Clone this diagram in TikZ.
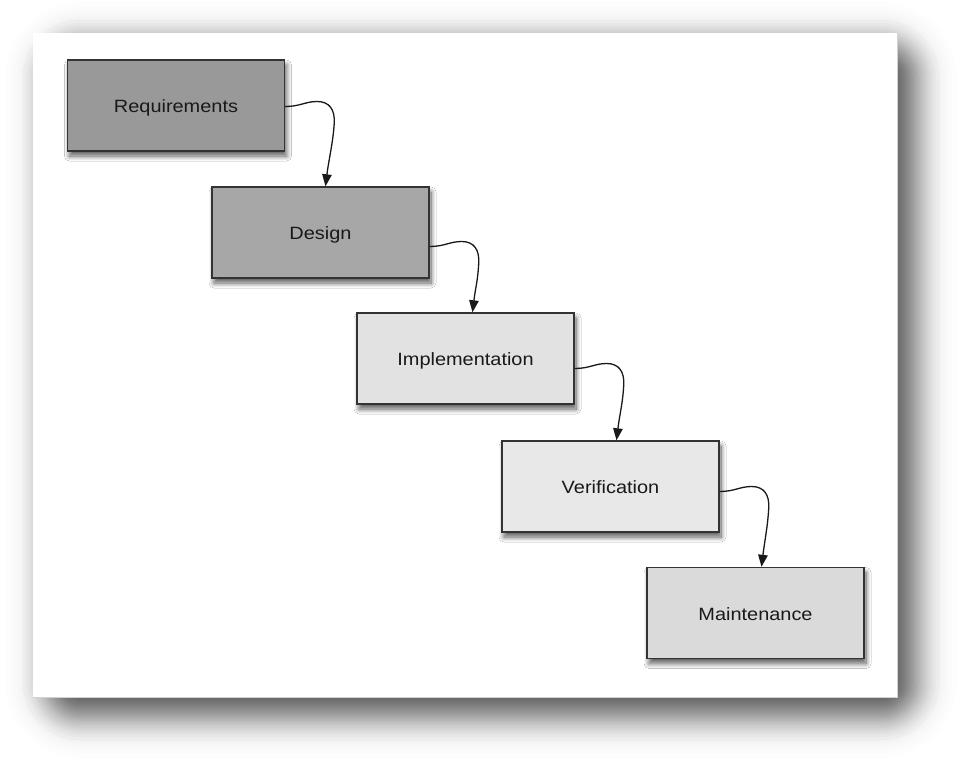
\documentclass[tikz,border=0pt]{standalone}
\usepackage{fontspec}
\setmainfont{Liberation Sans}
\newfontfamily\boxfont[FakeStretch=1.12]{Liberation Sans}
\usetikzlibrary{calc,arrows.meta,shadows.blur}
\definecolor{darkbox}{HTML}{999999}
\definecolor{midbox}{HTML}{A7A7A7}
\definecolor{implbox}{HTML}{E2E2E2}
\definecolor{verbox}{HTML}{E8E8E8}
\definecolor{mainbox}{HTML}{DADADA}
\definecolor{edge}{HTML}{333333}
\newcommand\wfarrow[2]{%
  \draw[flow] (#1) .. controls ($(#1)+(15,0)$) and ($(#1)+(20,-5)$) ..
    ($(#1)+(32,-5)$) .. controls ($(#1)+(44,-5)$) and ($(#1)+(50,3)$) ..
    ($(#1)+(49,17)$) .. controls ($(#1)+(48,35)$) and ($(#2)+(3,-25)$) .. (#2);}
\begin{document}
\begin{tikzpicture}[x=1pt,y=-1pt,
  phase/.style={draw=edge, line width=1.4pt, minimum width=217pt, minimum height=91pt,
    inner sep=0pt, text height=14.4pt, text depth=0pt,
    font=\boxfont\fontsize{17.8}{21}\selectfont, text=black!90,
    blur shadow={shadow xshift=2pt, shadow yshift=-5pt, shadow blur radius=5pt,
      shadow opacity=65, shadow blur steps=10}},
  flow/.style={line width=1.3pt, draw=black!90, -{Triangle[length=12pt,width=9.5pt]}},
  canvasshadow/.style={fill=black, fill opacity=0.0216},
  canvastail/.style={fill=black, fill opacity=0.0072}]
\useasboundingbox (0,0) rectangle (963,763);
\fill[white] (0,0) rectangle (963,763);
% large soft shadow of the canvas (layered, Gaussian-like)
\foreach \q in {-2.5,-2.25,-2.05,-1.9,-1.78,-1.68,1.68,1.78,1.9,2.05,2.25,2.5}{
  \pgfmathsetmacro\rr{max(2,26+20*(\q))}
  \path[canvastail, rounded corners=\rr pt]
    ({55-20*(\q)},{52-20*(\q)}) rectangle ({907+20*(\q)},{708+20*(\q)});
}
\foreach \q in {-1.625,-1.455,-1.318,-1.203,-1.101,-1.010,-0.926,-0.849,-0.776,-0.708,
                -0.642,-0.579,-0.519,-0.460,-0.402,-0.346,-0.291,-0.237,-0.184,-0.131,-0.078,-0.026,
                0.026,0.078,0.131,0.184,0.237,0.291,0.346,0.402,0.460,0.519,0.579,0.642,
                0.708,0.776,0.849,0.926,1.010,1.101,1.203,1.318,1.455,1.625}{
  \pgfmathsetmacro\rr{max(2,26+20*(\q))}
  \path[canvasshadow, rounded corners=\rr pt]
    ({55-20*(\q)},{52-20*(\q)}) rectangle ({907+20*(\q)},{708+20*(\q)});
}
% canvas
\fill[white] (33,33) rectangle (897,697);
\draw[black!18, line width=0.8pt] (33,697) -- (897,697) -- (897,33);
% phases
\node[phase, fill=darkbox] (req) at (176,105.5) {Requirements};
\node[phase, fill=midbox]  (des) at (320.5,232.5) {Design};
\node[phase, fill=implbox] (imp) at (465.5,358.5) {Implementation};
\node[phase, fill=verbox]  (ver) at (610.5,486.5) {Verification};
\node[phase, fill=mainbox] (mai) at (755.5,613) {Maintenance};
% connectors
\coordinate (s1) at ([yshift=-1pt]req.east);
\coordinate (e1) at ([xshift=5pt]des.north);
\coordinate (s2) at ([yshift=-14pt]des.east);
\coordinate (e2) at ([xshift=7pt]imp.north);
\coordinate (s3) at ([yshift=-10pt]imp.east);
\coordinate (e3) at ([xshift=6pt]ver.north);
\coordinate (s4) at ([yshift=-5pt]ver.east);
\coordinate (e4) at ([xshift=6pt]mai.north);
\wfarrow{s1}{e1}
\wfarrow{s2}{e2}
\wfarrow{s3}{e3}
\wfarrow{s4}{e4}
\end{tikzpicture}
\end{document}
